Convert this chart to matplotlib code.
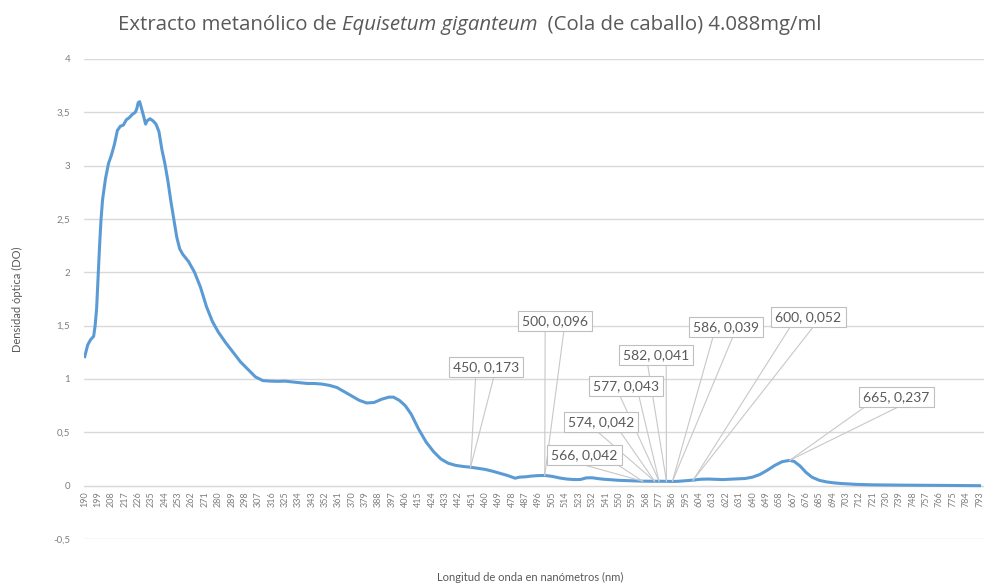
import numpy as np
import matplotlib
matplotlib.use("Agg")
import matplotlib.pyplot as plt

# absorbance (nm, DO)
wavelength = [190, 192, 194, 196, 197, 198, 199, 200, 201, 202, 204, 206, 208, 210,
              212, 214, 216, 218, 220, 222, 224, 225, 226, 227, 229, 231, 232, 234,
              236, 238, 240, 242, 244, 246, 248, 250, 252, 254, 256, 260, 264, 268,
              272, 276, 280, 285, 290, 295, 300, 305, 310, 315, 320, 325, 330, 335,
              340, 345, 350, 355, 360, 365, 370, 375, 380, 385, 390, 395, 398, 402,
              406, 410, 415, 420, 425, 430, 435, 440, 445, 450, 455, 460, 465, 470,
              475, 480, 483, 487, 491, 495, 500, 505, 510, 515, 520, 524, 528, 532,
              536, 540, 545, 550, 555, 560, 566, 570, 574, 577, 582, 586, 590, 595,
              600, 605, 610, 615, 620, 625, 630, 635, 640, 645, 650, 655, 660, 665,
              668, 672, 676, 680, 685, 690, 695, 700, 710, 720, 730, 740, 750, 760,
              770, 780, 793]
absorbance = [1.21, 1.32, 1.37, 1.40, 1.50, 1.66, 1.95, 2.25, 2.50, 2.68, 2.88, 3.02, 3.10, 3.20,
              3.33, 3.37, 3.38, 3.43, 3.45, 3.48, 3.50, 3.53, 3.59, 3.60, 3.50, 3.39, 3.42, 3.44,
              3.42, 3.39, 3.32, 3.15, 3.02, 2.86, 2.67, 2.50, 2.33, 2.22, 2.17, 2.10, 2.00, 1.86,
              1.68, 1.54, 1.44, 1.34, 1.25, 1.16, 1.09, 1.02, 0.985, 0.98, 0.978, 0.98, 0.972, 0.965,
              0.958, 0.958, 0.952, 0.94, 0.92, 0.88, 0.84, 0.80, 0.775, 0.78, 0.81, 0.83, 0.83, 0.80,
              0.75, 0.67, 0.53, 0.41, 0.32, 0.25, 0.21, 0.19, 0.18, 0.173, 0.162, 0.152, 0.135, 0.115,
              0.095, 0.07, 0.08, 0.083, 0.09, 0.094, 0.096, 0.087, 0.072, 0.062, 0.057, 0.058, 0.073, 0.074,
              0.066, 0.060, 0.055, 0.050, 0.047, 0.045, 0.042, 0.042, 0.042, 0.043, 0.041, 0.039, 0.041, 0.046,
              0.052, 0.060, 0.062, 0.059, 0.057, 0.061, 0.064, 0.067, 0.080, 0.105, 0.145, 0.190, 0.225, 0.237,
              0.228, 0.185, 0.125, 0.080, 0.050, 0.035, 0.026, 0.020, 0.012, 0.008, 0.006, 0.005, 0.004, 0.003,
              0.002, 0.001, 0.0]

tick_labels = list(range(190, 794, 9))
y_ticks = [-0.5, 0, 0.5, 1, 1.5, 2, 2.5, 3, 3.5, 4]

# callouts: labelled point and where its box sits (nm, DO)
callout_x = [450, 500, 566, 574, 577, 582, 586, 600, 665]
callout_y = [0.173, 0.096, 0.042, 0.042, 0.043, 0.041, 0.039, 0.052, 0.237]
box_x = [460.5, 507.0, 526.6, 538.0, 554.9, 575.1, 622.3, 677.7, 737.0]
box_y = [1.115, 1.546, 0.29, 0.60, 0.937, 1.227, 1.49, 1.583, 0.834]

grey = "#7f7f7f"
grid_c = "#d9d9d9"
plt.rcParams["font.family"] = ["Lato", "DejaVu Sans"]

fig = plt.figure(figsize=(9.84, 5.86), dpi=100)
ax = fig.add_axes([84 / 984, 47 / 586, 900 / 984, 480 / 586])

ax.plot(wavelength, absorbance, color="#5b9bd5", linewidth=2.2, zorder=3,
        solid_joinstyle="round")

# spine first: moving it resets the tick labels
for s in ["top", "right", "left"]:
    ax.spines[s].set_visible(False)
ax.spines["bottom"].set_position(("data", 0))
ax.spines["bottom"].set_color(grid_c)

ax.set_xlim(189.5, 796)
ax.set_ylim(-0.5, 4)
ax.set_yticks(y_ticks)
ax.set_yticklabels([f"{v:g}".replace(".", ",") for v in y_ticks], fontsize=7, color=grey)
ax.set_xticks(tick_labels)
ax.set_xticklabels([str(t) for t in tick_labels], rotation=90, fontsize=6.5, color=grey)
ax.tick_params(axis="x", length=0, pad=4)
ax.tick_params(axis="y", length=0, pad=10)
ax.yaxis.grid(True, color=grid_c, linewidth=1)
ax.set_axisbelow(True)

# callout boxes with wedge lines
fig.canvas.draw()
inv = ax.transData.inverted()
for px, py, bx, by in zip(callout_x, callout_y, box_x, box_y):
    label = f"{px}, {py:.3f}".replace("0.", "0,")
    ax.text(bx, by, label, ha="center", va="center", fontsize=10, color="#595959",
            zorder=6, bbox=dict(boxstyle="square,pad=0.3", fc="white", ec="#bfbfbf", lw=0.8))
    p = ax.transData.transform((px, py))
    b = ax.transData.transform((bx, by))
    d = p - b
    n = np.array([-d[1], d[0]]) / np.hypot(*d) * 10
    for base in (b + n, b - n):
        seg = inv.transform([base, p])
        ax.plot(seg[:, 0], seg[:, 1], color="#c8c8c8", linewidth=0.8, zorder=5)

# title with italic species name
ty = 1 - 30 / 586
t1 = fig.text(118 / 984, ty, "Extracto metanólico de ", fontsize=14.7,
              color="#595959", family="Open Sans", va="baseline")
t2 = fig.text(0, ty, "Equisetum giganteum", fontsize=14.7, color="#595959",
              family="Open Sans", style="italic", va="baseline")
t3 = fig.text(0, ty, "  (Cola de caballo) 4.088mg/ml", fontsize=14.7, color="#595959",
              family="Open Sans", va="baseline")
fig.canvas.draw()
r = fig.canvas.get_renderer()
inv_f = fig.transFigure.inverted()
t2.set_x(inv_f.transform((t1.get_window_extent(r).x1, 0))[0])
fig.canvas.draw()
t3.set_x(inv_f.transform((t2.get_window_extent(r).x1, 0))[0])

fig.text(17 / 984, 0.49, "Densidad óptica (DO)", rotation=90, ha="center", va="center",
         fontsize=8, color="#595959")
fig.text(530 / 984, 1 - 577 / 586, "Longitud de onda en nanómetros (nm)", ha="center",
         va="center", fontsize=8, color="#595959")

fig.savefig("out.png", dpi=100)
